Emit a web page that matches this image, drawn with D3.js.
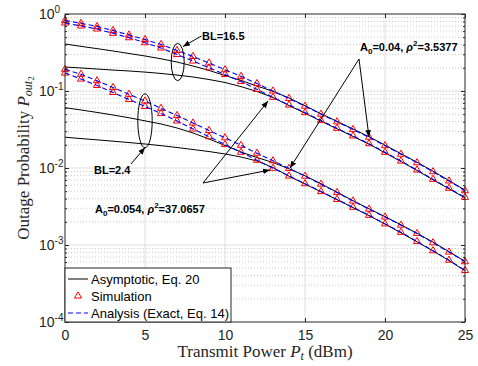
<!DOCTYPE html>
<html><head><meta charset="utf-8">
<script src="https://cdn.jsdelivr.net/npm/d3@7"></script>
<style>body{margin:0;background:#fff}svg{display:block}</style>
</head><body>
<svg id="c" width="478" height="366"></svg>
<script>
// ---- data ----
const powerDbm = [0,1,2,3,4,5,6,7,8,9,10,11,12,13,14,15,16,17,18,19,20,21,22,23,24,25];
const xTicks = [0,5,10,15,20,25];
const yTickExps = [0,-1,-2,-3,-4];
// BL = 16.5, A0 = 0.04, rho^2 = 3.5377
const exactBL165_A004 = [0.823,0.757,0.688,0.611,0.534,0.466,0.402,0.336,0.281,0.231,0.189,0.155,0.125,0.100,0.0800,0.0635,0.0500,0.0398,0.0316,0.0251,0.0195,0.0151,0.0117,0.00895,0.00678,0.00507];
const asymBL165_A004 = [0.408,0.380,0.355,0.331,0.307,0.285,0.262,0.238,0.211,0.185,0.159,0.137,0.116,0.0991,0.0811,0.0644,0.0507,0.0404,0.0321,0.0255,0.0198,0.01534,0.01189,0.00909,0.00689,0.00515];
// BL = 16.5, A0 = 0.054, rho^2 = 37.0657
const exactBL165_A0054 = [0.764,0.699,0.639,0.562,0.492,0.424,0.362,0.298,0.245,0.200,0.164,0.133,0.105,0.0828,0.0658,0.0524,0.0413,0.0328,0.0261,0.0207,0.0160,0.0123,0.00942,0.00713,0.00545,0.00416];
const asymBL165_A0054 = [0.205,0.199,0.193,0.187,0.182,0.176,0.169,0.161,0.152,0.141,0.129,0.114,0.0986,0.0824,0.0648,0.0516,0.0406,0.0323,0.0257,0.0204,0.01575,0.01214,0.00929,0.00703,0.00537,0.0041];
// BL = 2.4, A0 = 0.04
const exactBL24_A004 = [0.191,0.165,0.136,0.111,0.0906,0.0741,0.0596,0.0481,0.0384,0.0307,0.0247,0.0197,0.01557,0.01241,0.00988,0.00783,0.00616,0.00480,0.00373,0.00292,0.00231,0.00181,0.00141,0.00107,0.00081,0.000607];
const asymBL24_A004 = [0.0607,0.0567,0.0527,0.0488,0.0449,0.041,0.0373,0.0331,0.0285,0.0238,0.0196,0.01614,0.01368,0.01178,0.00977,0.00792,0.00624,0.00485,0.00377,0.00295,0.00234,0.00183,0.00142,0.00109,0.00082,0.000614];
// BL = 2.4, A0 = 0.054
const exactBL24_A0054 = [0.171,0.143,0.118,0.0956,0.0776,0.0629,0.0510,0.0408,0.0321,0.0255,0.0202,0.0160,0.01262,0.00993,0.00787,0.00625,0.00494,0.00391,0.00309,0.00243,0.00188,0.00146,0.00111,0.000843,0.000635,0.000467];
const asymBL24_A0054 = [0.0251,0.0241,0.0232,0.0223,0.0214,0.0205,0.0195,0.01846,0.01738,0.01637,0.0152,0.0139,0.01233,0.01014,0.00783,0.0062,0.0049,0.00388,0.00306,0.00241,0.00187,0.00144,0.0011,0.000836,0.000629,0.000462];

const exactSeries = [exactBL165_A004, exactBL165_A0054, exactBL24_A004, exactBL24_A0054];
const simSeries = exactSeries;
const asymSeries = [asymBL165_A004, asymBL165_A0054, asymBL24_A004, asymBL24_A0054];
const legendLabels = ["Asymptotic, Eq. 20", "Simulation", "Analysis (Exact, Eq. 14)"];

// ---- drawing ----
const svg = d3.select('#c');
const L = 65, R = 465, T = 14, B = 322;
const x = d3.scaleLinear().domain([0,25]).range([L,R]);
const y = d3.scaleLog().domain([1e-4,1]).range([B,T]);
const sans = "'Liberation Sans', Arial, Helvetica, sans-serif";
const serif = "'Liberation Serif', 'Times New Roman', serif";
const axisCol = '#262626';

// grid
const g = svg.append('g');
const minorVals = [];
for (let e=-4; e<0; e++) for (let k=2;k<=9;k++) minorVals.push(k*Math.pow(10,e));
g.selectAll('.mg').data(minorVals).enter().append('line')
  .attr('x1',L).attr('x2',R).attr('y1',d=>y(d)).attr('y2',d=>y(d))
  .attr('stroke','#bdbdbd').attr('stroke-width',0.8).attr('stroke-dasharray','1,2');
g.selectAll('.hg').data([1e-3,1e-2,1e-1]).enter().append('line')
  .attr('x1',L).attr('x2',R).attr('y1',d=>y(d)).attr('y2',d=>y(d))
  .attr('stroke','#dedede').attr('stroke-width',1);
g.selectAll('.vg').data(xTicks.slice(1,-1)).enter().append('line')
  .attr('y1',T).attr('y2',B).attr('x1',d=>x(d)).attr('x2',d=>x(d))
  .attr('stroke','#dedede').attr('stroke-width',1);

// lines
const line = d3.line().x((d,i)=>x(powerDbm[i])).y(d=>y(d));
asymSeries.forEach(s=>{
  svg.append('path').attr('d',line(s)).attr('fill','none').attr('stroke','#000').attr('stroke-width',1);
});
const tri = d3.symbol().type(d3.symbolTriangle).size(22);
simSeries.forEach(s=>{
  svg.append('g').selectAll('path').data(s).enter().append('path')
    .attr('d',tri).attr('transform',(d,i)=>`translate(${x(powerDbm[i])},${y(d)})`)
    .attr('fill','none').attr('stroke','#ff0000').attr('stroke-width',1);
});
exactSeries.forEach(s=>{
  svg.append('path').attr('d',line(s)).attr('fill','none').attr('stroke','#0000ff')
    .attr('stroke-width',1.1).attr('stroke-dasharray','5,3');
});

// axes
const ax = svg.append('g').attr('transform',`translate(0,${B})`)
  .call(d3.axisBottom(x).tickValues(xTicks).tickSizeInner(-4).tickSizeOuter(0).tickPadding(8));
ax.select('.domain').remove();
ax.selectAll('line').attr('stroke',axisCol);
ax.selectAll('text').attr('font-family',sans).attr('font-size',14).attr('fill',axisCol);
const axT = svg.append('g').attr('transform',`translate(0,${T})`)
  .call(d3.axisTop(x).tickValues(xTicks).tickSizeInner(-4).tickSizeOuter(0).tickFormat(''));
axT.select('.domain').remove(); axT.selectAll('line').attr('stroke',axisCol);

const yMaj = yTickExps.map(e=>Math.pow(10,e));
const ay = svg.append('g').attr('transform',`translate(${L},0)`)
  .call(d3.axisLeft(y).tickValues(yMaj).tickSizeInner(-4).tickSizeOuter(0).tickFormat(''));
ay.select('.domain').remove(); ay.selectAll('line').attr('stroke',axisCol);
const ayR = svg.append('g').attr('transform',`translate(${R},0)`)
  .call(d3.axisRight(y).tickValues(yMaj).tickSizeInner(-4).tickSizeOuter(0).tickFormat(''));
ayR.select('.domain').remove(); ayR.selectAll('line').attr('stroke',axisCol);
[[L,d3.axisLeft],[R,d3.axisRight]].forEach(([px,fn])=>{
  const m = svg.append('g').attr('transform',`translate(${px},0)`)
    .call(fn(y).tickValues(minorVals).tickSizeInner(-2).tickSizeOuter(0).tickFormat(''));
  m.select('.domain').remove(); m.selectAll('line').attr('stroke',axisCol);
});
// y tick labels with exponents
yTickExps.forEach(e=>{
  const t = svg.append('text').attr('x',39).attr('y',y(Math.pow(10,e))+5)
    .attr('font-family',sans).attr('font-size',14).attr('fill',axisCol);
  t.append('tspan').text('10');
  t.append('tspan').attr('dy',-6).attr('font-size',10).text(String(e));
});
svg.append('rect').attr('x',L).attr('y',T).attr('width',R-L).attr('height',B-T)
  .attr('fill','none').attr('stroke',axisCol).attr('stroke-width',1);

// axis titles
const xt = svg.append('text').attr('x',(L+R)/2).attr('y',357).attr('text-anchor','middle')
  .attr('font-family',serif).attr('font-size',17).attr('fill',axisCol);
xt.append('tspan').text('Transmit Power ');
xt.append('tspan').attr('font-style','italic').text('P');
xt.append('tspan').attr('font-style','italic').attr('font-size',12).attr('dy',3).text('t');
xt.append('tspan').attr('dy',-3).text(' (dBm)');
const yt = svg.append('text').attr('transform',`translate(28.5,158) rotate(-90)`).attr('text-anchor','middle')
  .attr('font-family',serif).attr('font-size',17).attr('fill',axisCol);
yt.append('tspan').text('Outage Probability ');
yt.append('tspan').attr('font-style','italic').text('P');
yt.append('tspan').attr('font-style','italic').attr('font-size',12).attr('dy',3).text('out');
yt.append('tspan').attr('font-size',9).attr('dy',2).text('2');

// annotations
const defs = svg.append('defs');
defs.append('marker').attr('id','ah').attr('viewBox','0 0 10 10').attr('refX',10).attr('refY',5)
  .attr('markerWidth',7).attr('markerHeight',7).attr('orient','auto').attr('markerUnits','userSpaceOnUse')
  .append('path').attr('d','M0,1 L10,5 L0,9 z').attr('fill','#000');
const arrows = [
  [[201.5,36],[183,46.5]],
  [[131,164],[145,147.5]],
  [[359,59],[290,168]],
  [[359,59],[369,137]],
  [[203,183],[268,101]],
  [[203,183],[270,170]]
];
arrows.forEach(([a,b])=>svg.append('line').attr('x1',a[0]).attr('y1',a[1]).attr('x2',b[0]).attr('y2',b[1])
  .attr('stroke','#000').attr('stroke-width',1).attr('marker-end','url(#ah)'));
svg.append('ellipse').attr('cx',177.7).attr('cy',62).attr('rx',6.5).attr('ry',18.7)
  .attr('fill','none').attr('stroke','#000').attr('stroke-width',1);
svg.append('ellipse').attr('cx',145).attr('cy',120.8).attr('rx',7.2).attr('ry',27)
  .attr('fill','none').attr('stroke','#000').attr('stroke-width',1);
function ann(px,py,parts){
  const t = svg.append('text').attr('x',px).attr('y',py).attr('font-family',sans)
    .attr('font-size',11).attr('font-weight','bold').attr('fill','#000');
  parts.forEach(p=>{const s=t.append('tspan').text(p.t); if(p.dy) s.attr('dy',p.dy); if(p.fs) s.attr('font-size',p.fs); if(p.it) s.attr('font-style','italic');});
}
ann(202,40,[{t:'BL=16.5'}]);
ann(94,174,[{t:'BL=2.4'}]);
ann(360,50.5,[{t:'A'},{t:'0',dy:3,fs:8},{t:'=0.04, ',dy:-3},{t:'ρ',it:true},{t:'2',dy:-5,fs:8},{t:'=3.5377',dy:5}]);
ann(95,213,[{t:'A'},{t:'0',dy:3,fs:8},{t:'=0.054, ',dy:-3},{t:'ρ',it:true},{t:'2',dy:-5,fs:8},{t:'=37.0657',dy:5}]);

// legend
const lg = svg.append('g');
lg.append('rect').attr('x',L).attr('y',268).attr('width',166).attr('height',B-268)
  .attr('fill','#fff').attr('stroke',axisCol).attr('stroke-width',1);
const ly = [279,296,313];
lg.append('line').attr('x1',68).attr('x2',88).attr('y1',ly[0]).attr('y2',ly[0]).attr('stroke','#000').attr('stroke-width',1);
lg.append('path').attr('d',tri).attr('transform',`translate(78,${ly[1]})`).attr('fill','none').attr('stroke','#ff0000');
lg.append('line').attr('x1',68).attr('x2',88).attr('y1',ly[2]).attr('y2',ly[2]).attr('stroke','#0000ff').attr('stroke-width',1.1).attr('stroke-dasharray','5,3');
legendLabels.forEach((s,i)=>lg.append('text').attr('x',91).attr('y',ly[i]+4.5).attr('font-family',sans)
  .attr('font-size',13).attr('fill','#000').text(s));
</script>
</body></html>
